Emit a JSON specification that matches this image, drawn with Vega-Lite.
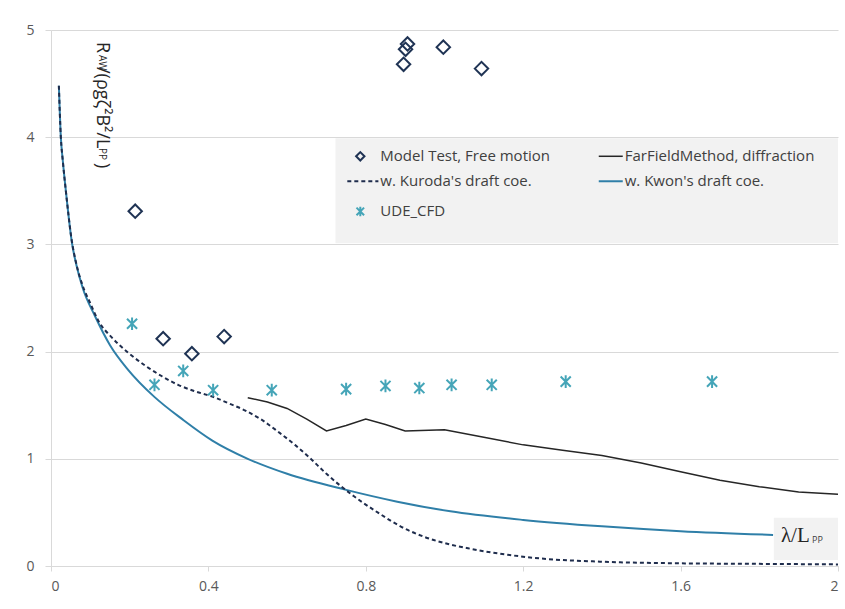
{
  "$schema": "https://vega.github.io/schema/vega-lite/v6.json",
  "autosize": "none",
  "width": 787,
  "height": 536,
  "padding": {"left": 51, "top": 30, "right": 7, "bottom": 43},
  "background": "white",
  "config": {
    "font": "Open Sans",
    "view": {"stroke": null},
    "axis": {
      "labelFont": "Open Sans",
      "labelFontSize": 14,
      "labelColor": "#595959",
      "titleFont": "Open Sans"
    }
  },
  "datasets": {
    "model": [
      {"x": 0.214, "y": 3.31},
      {"x": 0.285, "y": 2.12},
      {"x": 0.358, "y": 1.98},
      {"x": 0.44, "y": 2.14},
      {"x": 0.896, "y": 4.68},
      {"x": 0.901, "y": 4.82},
      {"x": 0.906, "y": 4.87},
      {"x": 0.997, "y": 4.84},
      {"x": 1.094, "y": 4.64}
    ],
    "cfd": [
      {"x": 0.206, "y": 2.26},
      {"x": 0.263, "y": 1.69},
      {"x": 0.336, "y": 1.82},
      {"x": 0.412, "y": 1.64},
      {"x": 0.561, "y": 1.64},
      {"x": 0.75, "y": 1.65},
      {"x": 0.85, "y": 1.68},
      {"x": 0.936, "y": 1.66},
      {"x": 1.018, "y": 1.69},
      {"x": 1.12, "y": 1.69},
      {"x": 1.308, "y": 1.72},
      {"x": 1.68, "y": 1.72}
    ],
    "farfield": [
      {"x": 0.5, "y": 1.57},
      {"x": 0.55, "y": 1.53},
      {"x": 0.6, "y": 1.47},
      {"x": 0.65, "y": 1.37},
      {"x": 0.7, "y": 1.26},
      {"x": 0.75, "y": 1.31},
      {"x": 0.8, "y": 1.37},
      {"x": 0.85, "y": 1.32},
      {"x": 0.9, "y": 1.26},
      {"x": 1.0, "y": 1.27},
      {"x": 1.1, "y": 1.2},
      {"x": 1.2, "y": 1.13},
      {"x": 1.3, "y": 1.08},
      {"x": 1.4, "y": 1.03},
      {"x": 1.5, "y": 0.96},
      {"x": 1.6, "y": 0.88},
      {"x": 1.7, "y": 0.8},
      {"x": 1.8, "y": 0.74},
      {"x": 1.9, "y": 0.69},
      {"x": 2.0, "y": 0.67}
    ],
    "kuroda": [
      {"x": 0.02, "y": 4.48},
      {"x": 0.025, "y": 4.0},
      {"x": 0.03, "y": 3.78},
      {"x": 0.038, "y": 3.49},
      {"x": 0.053, "y": 3.03},
      {"x": 0.065, "y": 2.81},
      {"x": 0.08, "y": 2.62},
      {"x": 0.1, "y": 2.45},
      {"x": 0.12, "y": 2.29},
      {"x": 0.155, "y": 2.13},
      {"x": 0.196, "y": 1.99},
      {"x": 0.239, "y": 1.87},
      {"x": 0.282, "y": 1.77},
      {"x": 0.323, "y": 1.69},
      {"x": 0.366, "y": 1.63},
      {"x": 0.41, "y": 1.58},
      {"x": 0.45, "y": 1.52},
      {"x": 0.494, "y": 1.45},
      {"x": 0.537, "y": 1.36},
      {"x": 0.578, "y": 1.25},
      {"x": 0.62, "y": 1.13},
      {"x": 0.66, "y": 1.0},
      {"x": 0.7, "y": 0.86},
      {"x": 0.77, "y": 0.65},
      {"x": 0.83, "y": 0.5},
      {"x": 0.888, "y": 0.37},
      {"x": 0.95, "y": 0.27},
      {"x": 1.015, "y": 0.2},
      {"x": 1.06, "y": 0.165},
      {"x": 1.23, "y": 0.075},
      {"x": 1.4, "y": 0.04},
      {"x": 1.6, "y": 0.025},
      {"x": 1.8, "y": 0.02},
      {"x": 2.0, "y": 0.015}
    ],
    "kwon": [
      {"x": 0.02, "y": 4.48},
      {"x": 0.025, "y": 4.0},
      {"x": 0.03, "y": 3.78},
      {"x": 0.038, "y": 3.49},
      {"x": 0.053, "y": 3.02},
      {"x": 0.065, "y": 2.8},
      {"x": 0.08, "y": 2.6},
      {"x": 0.112, "y": 2.33},
      {"x": 0.15, "y": 2.06},
      {"x": 0.196, "y": 1.83},
      {"x": 0.262, "y": 1.58},
      {"x": 0.337, "y": 1.36},
      {"x": 0.41, "y": 1.17},
      {"x": 0.5, "y": 1.0},
      {"x": 0.6, "y": 0.86},
      {"x": 0.75, "y": 0.71},
      {"x": 0.88, "y": 0.6},
      {"x": 1.015, "y": 0.51},
      {"x": 1.2, "y": 0.43},
      {"x": 1.4, "y": 0.37},
      {"x": 1.6, "y": 0.325},
      {"x": 1.835, "y": 0.29}
    ]
  },
  "layer": [
    {
      "data": {"values": [{"x": 0, "y": 0}]},
      "mark": {"type": "point", "opacity": 0},
      "encoding": {
        "x": {
          "field": "x", "type": "quantitative",
          "scale": {"domain": [0, 2], "nice": false, "zero": false},
          "axis": {
            "values": [0, 0.4, 0.8, 1.2, 1.6, 2],
            "format": "~g",
            "title": null,
            "grid": false,
            "domainColor": "#d9d9d9",
            "tickColor": "#d9d9d9",
            "tickSize": 5,
            "labelPadding": 8
          }
        },
        "y": {
          "field": "y", "type": "quantitative",
          "scale": {"domain": [0, 5], "nice": false},
          "axis": {
            "values": [0, 1, 2, 3, 4, 5],
            "format": "~g",
            "title": null,
            "grid": true,
            "gridColor": "#d9d9d9",
            "domainColor": "#d9d9d9",
            "tickColor": "#d9d9d9",
            "tickSize": 6,
            "labelPadding": 11
          }
        }
      }
    },
    {
      "data": {"values": [{"x0": 0.723, "x1": 2.0, "y0": 3.01, "y1": 3.99}]},
      "mark": {"type": "rect", "fill": "#f2f2f2"},
      "encoding": {
        "x": {"field": "x0", "type": "quantitative"},
        "x2": {"field": "x1"},
        "y": {"field": "y0", "type": "quantitative"},
        "y2": {"field": "y1"}
      }
    },
    {
      "data": {"values": [{"x0": 1.837, "x1": 2.0, "y0": 0.056, "y1": 0.449}]},
      "mark": {"type": "rect", "fill": "#f2f2f2"},
      "encoding": {
        "x": {"field": "x0", "type": "quantitative"},
        "x2": {"field": "x1"},
        "y": {"field": "y0", "type": "quantitative"},
        "y2": {"field": "y1"}
      }
    },
    {
      "data": {"name": "farfield"},
      "mark": {"type": "line", "stroke": "#262626", "strokeWidth": 1.5},
      "encoding": {
        "x": {"field": "x", "type": "quantitative"},
        "y": {"field": "y", "type": "quantitative"}
      }
    },
    {
      "data": {"name": "kwon"},
      "mark": {"type": "line", "stroke": "#2f7fa8", "strokeWidth": 2, "interpolate": "monotone"},
      "encoding": {
        "x": {"field": "x", "type": "quantitative"},
        "y": {"field": "y", "type": "quantitative"}
      }
    },
    {
      "data": {"name": "kuroda"},
      "mark": {"type": "line", "stroke": "#1f2d4d", "strokeWidth": 2, "strokeDash": [4, 3], "interpolate": "monotone"},
      "encoding": {
        "x": {"field": "x", "type": "quantitative"},
        "y": {"field": "y", "type": "quantitative"}
      }
    },
    {
      "data": {"name": "cfd"},
      "mark": {
        "type": "point",
        "shape": "M-0.8,-0.8L0.8,0.8M-0.8,0.8L0.8,-0.8M0,-1L0,1",
        "filled": false,
        "stroke": "#45a5b8",
        "strokeWidth": 2,
        "size": 160,
        "opacity": 1
      },
      "encoding": {
        "x": {"field": "x", "type": "quantitative"},
        "y": {"field": "y", "type": "quantitative"}
      }
    },
    {
      "data": {"name": "model"},
      "mark": {
        "type": "point",
        "shape": "diamond",
        "filled": false,
        "stroke": "#1f3354",
        "strokeWidth": 2,
        "size": 180,
        "opacity": 1
      },
      "encoding": {
        "x": {"field": "x", "type": "quantitative"},
        "y": {"field": "y", "type": "quantitative"}
      }
    },
    {
      "data": {"values": [{"x": 0.786, "y": 3.822}]},
      "mark": {"type": "point", "shape": "diamond", "filled": false, "stroke": "#1f3354", "strokeWidth": 2, "size": 70, "opacity": 1},
      "encoding": {
        "x": {"field": "x", "type": "quantitative"},
        "y": {"field": "y", "type": "quantitative"}
      }
    },
    {
      "data": {"values": [{"x": 0.786, "y": 3.308}]},
      "mark": {"type": "point", "shape": "M-0.8,-0.8L0.8,0.8M-0.8,0.8L0.8,-0.8M0,-1L0,1", "filled": false, "stroke": "#45a5b8", "strokeWidth": 2, "size": 90, "opacity": 1},
      "encoding": {
        "x": {"field": "x", "type": "quantitative"},
        "y": {"field": "y", "type": "quantitative"}
      }
    },
    {
      "data": {"values": [{"x0": 1.392, "x1": 1.453, "y": 3.822}]},
      "mark": {"type": "rule", "stroke": "#262626", "strokeWidth": 1.5},
      "encoding": {
        "x": {"field": "x0", "type": "quantitative"},
        "x2": {"field": "x1"},
        "y": {"field": "y", "type": "quantitative"}
      }
    },
    {
      "data": {"values": [{"x0": 1.392, "x1": 1.453, "y": 3.589}]},
      "mark": {"type": "rule", "stroke": "#2f7fa8", "strokeWidth": 2},
      "encoding": {
        "x": {"field": "x0", "type": "quantitative"},
        "x2": {"field": "x1"},
        "y": {"field": "y", "type": "quantitative"}
      }
    },
    {
      "data": {"values": [{"x0": 0.753, "x1": 0.832, "y": 3.589}]},
      "mark": {"type": "rule", "stroke": "#1f2d4d", "strokeWidth": 2, "strokeDash": [4, 3]},
      "encoding": {
        "x": {"field": "x0", "type": "quantitative"},
        "x2": {"field": "x1"},
        "y": {"field": "y", "type": "quantitative"}
      }
    },
    {
      "data": {
        "values": [
          {"x": 0.837, "y": 3.822, "label": "Model Test, Free motion"},
          {"x": 1.458, "y": 3.822, "label": "FarFieldMethod, diffraction"},
          {"x": 0.837, "y": 3.589, "label": "w. Kuroda's draft coe."},
          {"x": 1.458, "y": 3.589, "label": "w. Kwon's draft coe."},
          {"x": 0.837, "y": 3.308, "label": "UDE_CFD"}
        ]
      },
      "mark": {"type": "text", "align": "left", "baseline": "middle", "font": "Open Sans", "fontSize": 15, "fill": "#404040"},
      "encoding": {
        "x": {"field": "x", "type": "quantitative"},
        "y": {"field": "y", "type": "quantitative"},
        "text": {"field": "label"}
      }
    },
    {
      "data": {
        "values": [
          {"x": 0.117, "y": 4.888, "t": "R"},
          {"x": 0.117, "y": 4.655, "t": "/(ρgζ²B²/L"},
          {"x": 0.117, "y": 3.759, "t": ")"}
        ]
      },
      "mark": {"type": "text", "align": "left", "baseline": "alphabetic", "angle": 90, "font": "Open Sans", "fontSize": 18, "fill": "#262626"},
      "encoding": {
        "x": {"field": "x", "type": "quantitative"},
        "y": {"field": "y", "type": "quantitative"},
        "text": {"field": "t"}
      }
    },
    {
      "data": {
        "values": [
          {"x": 0.121, "y": 4.767, "t": "AW"},
          {"x": 0.121, "y": 3.899, "t": "PP"}
        ]
      },
      "mark": {"type": "text", "align": "left", "baseline": "alphabetic", "angle": 90, "font": "Open Sans", "fontSize": 10, "fill": "#262626"},
      "encoding": {
        "x": {"field": "x", "type": "quantitative"},
        "y": {"field": "y", "type": "quantitative"},
        "text": {"field": "t"}
      }
    },
    {
      "data": {"values": [{"x": 1.855, "y": 0.224, "t": "λ/L"}]},
      "mark": {"type": "text", "align": "left", "baseline": "alphabetic", "font": "Liberation Serif", "fontSize": 21, "fill": "#262626"},
      "encoding": {
        "x": {"field": "x", "type": "quantitative"},
        "y": {"field": "y", "type": "quantitative"},
        "text": {"field": "t"}
      }
    },
    {
      "data": {"values": [{"x": 1.934, "y": 0.215, "t": "PP"}]},
      "mark": {"type": "text", "align": "left", "baseline": "alphabetic", "font": "Open Sans", "fontSize": 9, "fill": "#404040"},
      "encoding": {
        "x": {"field": "x", "type": "quantitative"},
        "y": {"field": "y", "type": "quantitative"},
        "text": {"field": "t"}
      }
    }
  ]
}
